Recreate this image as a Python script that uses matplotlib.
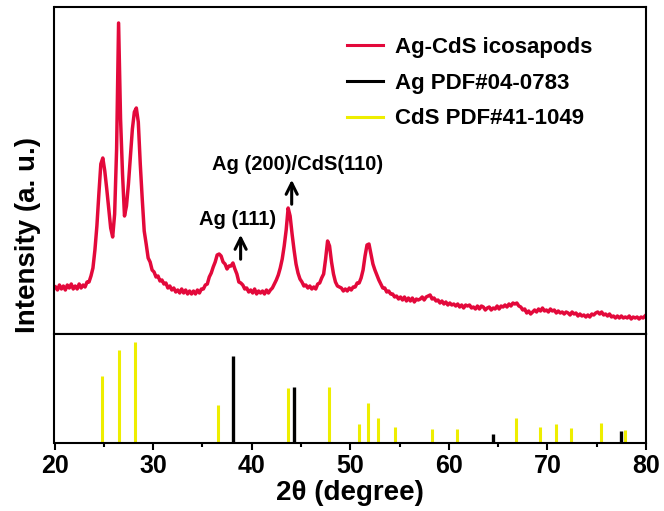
import numpy as np
import matplotlib.pyplot as plt
from matplotlib.lines import Line2D

plt.rcParams['font.family'] = ['Liberation Sans', 'DejaVu Sans']
plt.rcParams['font.weight'] = 'bold'
plt.rcParams['axes.labelweight'] = 'bold'

# measured XRD pattern, one value every 0.2 degree starting at 20.1
two_theta = np.round(np.arange(20.1, 80.0, 0.2), 1)
intensity = [
    47, 44, 49, 45, 48,  44, 49, 46, 50, 45,  48, 45, 50, 46, 49,      # 20-22
    47, 52, 52, 58, 66,  84, 108, 140, 170, 176,                        # 23-24
    163, 145, 125, 106, 97,  120, 185, 311, 215, 160,                   # 25-26
    118, 128, 150, 178, 205,  222, 226, 212, 170, 135,                  # 27-28
    103, 90, 76, 72, 64,  62, 57, 58, 53, 54,                           # 29-30
    50, 51, 46, 48, 44,  46, 42, 44, 41, 45,  41, 44, 40, 43, 40,       # 31-33
    43, 40, 44, 41, 45,  45, 49, 50, 57, 61,                            # 34-35
    67, 72, 79, 80, 78,  72, 70, 65, 68, 68,  71, 65, 60, 52, 51,       # 36-38
    49, 45, 46, 42, 44,  41, 45, 40, 43, 41,  43, 40, 44, 41, 44,       # 39-41
    46, 50, 54, 59, 66,  75, 88, 104, 126, 118,                         # 42-43
    100, 84, 70, 61, 55,  52, 48, 49, 46, 48,  45, 47, 45, 50, 51,      # 44-46
    56, 60, 75, 93, 88,  72, 60, 52, 48, 47,  46, 43, 45, 43, 46,       # 47-49
    44, 47, 47, 51, 51,  56, 64, 78, 89, 90,  80, 70, 64, 59, 54,       # 50-52
    50, 46, 46, 42, 43,  40, 40, 37, 38, 35,  37, 34, 37, 33, 36,       # 53-55
    33, 36, 32, 35, 34,  35, 37, 34, 37, 38,  39, 35, 36, 33, 34,       # 56-58
    31, 33, 30, 32, 29,  31, 29, 30, 28, 30,  27, 29, 26, 29, 28,       # 59-61
    29, 26, 27, 25, 28,  25, 28, 27, 24, 26,  27, 24, 26, 25, 28,       # 62-64
    25, 28, 27, 29, 27,  30, 28, 31, 30, 31,  28, 27, 24, 25, 21,       # 65-67
    23, 20, 22, 24, 22,  25, 23, 26, 23, 24,  22, 25, 23, 24, 21,       # 68-70
    23, 21, 22, 20, 22,  21, 19, 22, 20, 21,  18, 20, 18, 19, 17,       # 71-73
    19, 17, 20, 19, 21,  22, 20, 22, 19, 20,  18, 20, 17, 18, 16,       # 74-76
    18, 16, 18, 16, 17,  16, 18, 15, 17, 16,  17, 15, 17, 16, 18,       # 77-79
]

# reference cards
cds_pos = [24.81, 26.51, 28.18, 36.62, 43.68, 47.84, 50.88, 51.82, 52.80,
           54.58, 58.28, 60.83, 66.77, 69.27, 70.87, 72.37, 75.47, 77.90]
cds_int = [66, 92, 100, 37, 54, 55, 18, 39, 24,
           15, 13, 13, 24, 15, 18, 14, 19, 12]
ag_pos = [38.12, 44.28, 64.43, 77.47]
ag_int = [86, 55, 8, 11]

x_ticks = [20, 30, 40, 50, 60, 70, 80]
x_tick_labels = ['20', '30', '40', '50', '60', '70', '80']

RED = '#E3093B'
YELLOW = '#EEEE00'

W, H = 664, 511
fig = plt.figure(figsize=(W / 100, H / 100), dpi=100)
left, right = 54.5, 646
ax1 = fig.add_axes([left / W, 1 - 334 / H, (right - left) / W, (334 - 7) / H])
ax2 = fig.add_axes([left / W, 1 - 442.5 / H, (right - left) / W, (442.5 - 334) / H])

# top panel: measured pattern
ax1.plot(two_theta, intensity, color=RED, lw=2.5)
ax1.set_xlim(20, 80)
ax1.set_ylim(0, 327)
ax1.set_xticks([])
ax1.set_yticks([])

ax1.annotate('', xy=(38.88, 102), xytext=(38.88, 72),
             arrowprops=dict(arrowstyle='->', lw=2.2, color='k', mutation_scale=20))
ax1.text(38.56, 109, 'Ag (111)', ha='center', va='baseline', fontsize=14.5, weight='bold')
ax1.annotate('', xy=(44.06, 157), xytext=(44.06, 127),
             arrowprops=dict(arrowstyle='->', lw=2.2, color='k', mutation_scale=20))
ax1.text(44.65, 164, 'Ag (200)/CdS(110)', ha='center', va='baseline', fontsize=14.5,
         weight='bold')

handles = [Line2D([], [], color=RED, lw=2.2),
           Line2D([], [], color='k', lw=2.2),
           Line2D([], [], color=YELLOW, lw=2.2)]
labels = ['Ag-CdS icosapods', 'Ag PDF#04-0783', 'CdS PDF#41-1049']
ax1.legend(handles, labels, loc='upper left', bbox_to_anchor=(0.4945, 0.908),
           frameon=False, prop={'size': 16, 'weight': 'bold'}, borderpad=0,
           borderaxespad=0, handlelength=1.62, handletextpad=0.54, labelspacing=0.66)

# bottom panel: stick patterns
ax2.vlines(cds_pos, 0, cds_int, color=YELLOW, lw=2.2)
ax2.vlines(ag_pos, 0, ag_int, color='k', lw=2.4)
ax2.set_xlim(20, 80)
ax2.set_ylim(0, 108)
ax2.set_yticks([])
ax2.set_xticks(x_ticks, labels=x_tick_labels, fontsize=18, fontweight='bold')
ax2.set_xticks(range(25, 80, 10), minor=True)
ax2.tick_params(axis='x', which='major', direction='out', length=5, width=1.5)
ax2.tick_params(axis='x', which='minor', direction='out', length=3, width=1.5)
ax2.set_xlabel('2θ (degree)', fontsize=20, fontweight='bold', labelpad=1.5)

for ax in (ax1, ax2):
    for s in ax.spines.values():
        s.set_linewidth(1.5)

fig.text(0.042, 1 - 235 / H, 'Intensity (a. u.)', rotation=90, ha='center', va='center',
         fontsize=20, fontweight='bold')

fig.savefig('out.png', dpi=100)
